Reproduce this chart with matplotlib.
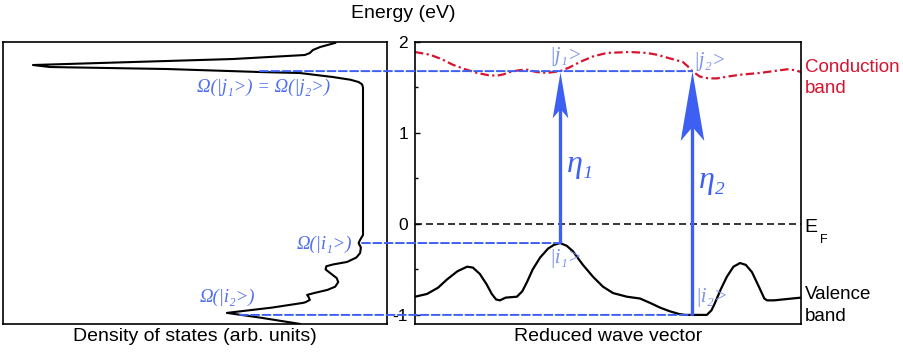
import matplotlib
matplotlib.use("Agg")
import matplotlib.pyplot as plt
from matplotlib.patches import ConnectionPatch
from matplotlib.path import Path

plt.rcParams['font.family'] = ['Liberation Sans', 'DejaVu Sans']
plt.rcParams['axes.unicode_minus'] = False

# density of states (arb. units) vs energy (eV)
dos_u = [86.5, 82.6, 80.7, 79.9, 78.6, 59.9, 7.8, 12.2, 42.7, 66.9, 77.3, 85.9,
         90.5, 92.6, 93.5, 93.75, 93.75, 93.0, 92.6, 93.2, 93.0, 92.0, 89.6,
         86.0, 84.2, 84.0, 85.2, 86.9, 87.3, 86.5, 84.5, 81.0, 79.2, 79.6,
         79.9, 78.8, 78.1, 70.0, 58.3, 67.0, 77.3]
dos_e = [1.99, 1.945, 1.912, 1.879, 1.857, 1.813, 1.747, 1.725, 1.703, 1.670,
         1.659, 1.615, 1.585, 1.560, 1.535, 1.500, -0.121, -0.175, -0.209,
         -0.260, -0.320, -0.370, -0.418, -0.445, -0.465, -0.500, -0.540,
         -0.595, -0.640, -0.690, -0.725, -0.760, -0.780, -0.805, -0.835,
         -0.860, -0.868, -0.920, -0.978, -1.030, -1.099]

# valence band (black) and conduction band (red) vs reduced wave vector
vb_k = [0.0, 0.031, 0.06, 0.083, 0.11, 0.135, 0.15, 0.168, 0.185, 0.199, 0.21,
        0.22, 0.235, 0.264, 0.278, 0.29, 0.305, 0.324, 0.345, 0.36, 0.376,
        0.393, 0.409, 0.435, 0.461, 0.487, 0.513, 0.549, 0.583, 0.61, 0.635,
        0.66, 0.684, 0.70, 0.718, 0.756, 0.768, 0.777, 0.792, 0.808, 0.825,
        0.842, 0.857, 0.873, 0.892, 0.905, 0.912, 0.93, 1.0]
vb_e = [-0.80, -0.77, -0.70, -0.61, -0.52, -0.47, -0.48, -0.55, -0.66, -0.77,
        -0.83, -0.84, -0.81, -0.80, -0.74, -0.64, -0.50, -0.37, -0.27, -0.23,
        -0.21, -0.24, -0.30, -0.45, -0.58, -0.69, -0.76, -0.80, -0.82, -0.87,
        -0.92, -0.96, -0.99, -1.00, -1.00, -1.00, -0.95, -0.87, -0.72, -0.58,
        -0.47, -0.43, -0.45, -0.53, -0.70, -0.82, -0.84, -0.84, -0.81]
cb_k = [0.0, 0.039, 0.07, 0.098, 0.13, 0.161, 0.19, 0.212, 0.23, 0.246, 0.27,
        0.29, 0.315, 0.342, 0.376, 0.40, 0.427, 0.46, 0.497, 0.557, 0.60,
        0.627, 0.66, 0.694, 0.71, 0.718, 0.738, 0.76, 0.782, 0.81, 0.842,
        0.894, 0.964, 0.985, 1.0]
cb_e = [1.89, 1.86, 1.81, 1.75, 1.70, 1.66, 1.635, 1.63, 1.645, 1.67, 1.69,
        1.695, 1.67, 1.66, 1.68, 1.72, 1.78, 1.84, 1.88, 1.89, 1.88, 1.86,
        1.82, 1.78, 1.72, 1.68, 1.62, 1.60, 1.60, 1.62, 1.64, 1.66, 1.70,
        1.69, 1.67]

# transitions: k position, initial energy, final energy
trans_k = [0.376, 0.718]
trans_ei = [-0.21, -1.00]
trans_ef = [1.67, 1.68]
trans_names = ['η₁', 'η₂']
# where the dashed guide lines start in the DOS panel (arb. units)
guide_u = [93.5, 61.7, 66.9]
guide_e = [-0.21, -1.00, 1.68]
guide_k = [0.376, 0.718, 0.718]

blue = '#3d60f2'
label_blue = '#4f6ff0'
light_blue = '#7f95ee'
red = '#d8132f'

fig = plt.figure(figsize=(9.04, 3.53), dpi=100)
ax_dos = fig.add_axes([3 / 904, 1 - 324 / 353, 384 / 904, 282 / 353])
ax_band = fig.add_axes([415 / 904, 1 - 324 / 353, 386 / 904, 282 / 353])

for ax in (ax_dos, ax_band):
    ax.set_ylim(-1.1, 2.0)
    for s in ax.spines.values():
        s.set_linewidth(1.2)

ax_dos.set_xlim(0, 100)
ax_dos.set_xticks([])
ax_dos.set_yticks([])
ax_dos.plot(dos_u, dos_e, color='black', lw=1.5)
ax_dos.set_xlabel('Density of states (arb. units)', fontsize=14, labelpad=3)

ax_band.set_xlim(0, 1)
ax_band.set_xticks([])
ax_band.set_yticks([-1, 0, 1, 2])
ax_band.set_yticks([-0.5, 0.5, 1.5], minor=True)
ax_band.tick_params(axis='y', which='major', direction='in', length=3.5,
                    width=1, labelsize=12.5, pad=5)
ax_band.tick_params(axis='y', which='minor', direction='in', length=2.5, width=1)
ax_band.set_xlabel('Reduced wave vector', fontsize=14, labelpad=3)

ax_band.plot(vb_k, vb_e, color='black', lw=1.6)
ax_band.plot(cb_k, cb_e, color=red, lw=1.6, linestyle=(0, (3.8, 1.5, 1, 1.5)))
ax_band.axhline(0, color='black', lw=1.1, linestyle=(0, (4.6, 2.6)))

# dashed guides running from the DOS panel into the band panel
for u, e, k in zip(guide_u, guide_e, guide_k):
    con = ConnectionPatch(xyA=(u, e), coordsA=ax_dos.transData,
                          xyB=(k, e), coordsB=ax_band.transData,
                          color=blue, lw=1.4, linestyle=(0, (4.1, 1.7)))
    fig.add_artist(con)

# arrows with long notched heads
head = Path([(0, 0), (0.17, -1), (0, -0.8), (-0.17, -1), (0, 0)],
            [Path.MOVETO, Path.LINETO, Path.LINETO, Path.LINETO, Path.CLOSEPOLY])
head_sizes = [66, 100]
for k, ei, ef, ms in zip(trans_k, trans_ei, trans_ef, head_sizes):
    ax_band.plot([k, k], [ei, ef - 0.3], color=blue, lw=2.4, solid_capstyle='butt')
    ax_band.plot([k], [ef], marker=head, ms=ms, color=blue, mew=0)

serif_it = dict(family=['Liberation Serif', 'DejaVu Serif'], style='italic')
ax_band.text(0.393, 0.65, trans_names[0], fontsize=23, color=blue,
             ha='left', va='center', **serif_it)
ax_band.text(0.735, 0.48, trans_names[1], fontsize=23, color=blue,
             ha='left', va='center', **serif_it)

ax_band.text(0.348, 1.84, '|j₁>', fontsize=15, color=light_blue,
             ha='left', va='center', **serif_it)
ax_band.text(0.720, 1.79, '|j₂>', fontsize=15, color=light_blue,
             ha='left', va='center', **serif_it)
ax_band.text(0.348, -0.38, '|i₁>', fontsize=15, color=light_blue,
             ha='left', va='center', **serif_it)
ax_band.text(0.727, -0.81, '|i₂>', fontsize=15, color=light_blue,
             ha='left', va='center', **serif_it)

ax_dos.text(85.2, 1.50, 'Ω(|j₁>) = Ω(|j₂>)', fontsize=13.5, color=label_blue,
            ha='right', va='center', **serif_it)
ax_dos.text(90.9, -0.22, 'Ω(|i₁>)', fontsize=13.5, color=label_blue,
            ha='right', va='center', **serif_it)
ax_dos.text(65.6, -0.81, 'Ω(|i₂>)', fontsize=13.5, color=label_blue,
            ha='right', va='center', **serif_it)

# side labels
ax_band.text(1.01, 1.72, 'Conduction', fontsize=13.5, color=red, va='center')
ax_band.text(1.01, 1.49, 'band', fontsize=13.5, color=red, va='center')
ax_band.text(1.01, -0.04, 'E', fontsize=14, color='black', va='center')
ax_band.text(1.049, -0.18, 'F', fontsize=9, color='black', va='center')
ax_band.text(1.01, -0.78, 'Valence', fontsize=13.5, color='black', va='center')
ax_band.text(1.01, -1.02, 'band', fontsize=13.5, color='black', va='center')

fig.text(403 / 904, 1 - 13 / 353, 'Energy (eV)', fontsize=14,
         ha='center', va='center')

fig.savefig('out.png', dpi=100)
